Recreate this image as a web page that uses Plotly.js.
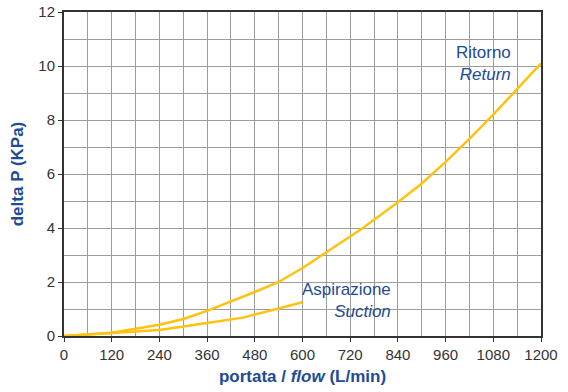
<!DOCTYPE html>
<html>
<head>
<meta charset="utf-8">
<script src="https://cdn.plot.ly/plotly-3.0.1.min.js"></script>
<style>html,body{margin:0;padding:0;background:#fff;}#chart{width:568px;height:392px;}</style>
</head>
<body>
<div id="chart"></div>
<script>
const returnFlow = [0, 120, 240, 300, 360, 420, 480, 540, 600, 660, 750, 840, 900, 960, 1020, 1080, 1140, 1200];
const returnDeltaP = [0, 0.12, 0.42, 0.63, 0.93, 1.27, 1.63, 2.0, 2.52, 3.1, 3.98, 4.95, 5.65, 6.45, 7.3, 8.2, 9.15, 10.1];
const suctionFlow = [0, 120, 240, 360, 450, 540, 600];
const suctionDeltaP = [0, 0.1, 0.22, 0.48, 0.68, 1.02, 1.25];
const xTickStep = 120;
const yTickStep = 2;
const xRange = [0, 1200];
const yRange = [0, 12];

const lineColor = '#FFC20E';
const blue = '#1D4B96';
const gridColor = '#9d9d9d';
const font = 'Liberation Sans, Arial, sans-serif';

const traces = [
  {x: returnFlow, y: returnDeltaP, xaxis: 'x', yaxis: 'y', mode: 'lines', line: {color: lineColor, width: 2.5}, hoverinfo: 'skip'},
  {x: suctionFlow, y: suctionDeltaP, xaxis: 'x2', yaxis: 'y2', mode: 'lines', line: {color: lineColor, width: 2.5}, hoverinfo: 'skip'}
];

const layout = {
  width: 568, height: 392,
  margin: {l: 64, r: 27, t: 12, b: 56},
  paper_bgcolor: '#fff', plot_bgcolor: '#fff',
  showlegend: false,
  font: {family: font, size: 14, color: '#333'},
  // base axes: fine grid + frame
  xaxis: {
    range: xRange, tickmode: 'linear', tick0: 0, dtick: xTickStep / 2,
    showgrid: true, gridcolor: gridColor, gridwidth: 1,
    showticklabels: false, ticks: '', zeroline: false,
    showline: true, linecolor: '#333', linewidth: 1.5, mirror: true
  },
  yaxis: {
    range: yRange, tickmode: 'linear', tick0: 0, dtick: yTickStep / 2,
    showgrid: true, gridcolor: gridColor, gridwidth: 1,
    showticklabels: false, ticks: '', zeroline: false,
    showline: true, linecolor: '#333', linewidth: 1.5, mirror: true
  },
  // overlay axes: labels, ticks, titles
  xaxis2: {
    overlaying: 'x', anchor: 'y2', side: 'bottom',
    range: xRange, tickmode: 'linear', tick0: 0, dtick: xTickStep,
    showgrid: false, zeroline: false, showline: false,
    ticks: 'outside', ticklen: 5, tickcolor: '#333',
    tickfont: {family: font, size: 15, color: '#333'},
    title: {text: '<b>portata / <i>flow</i> (L/min)</b>', font: {family: font, size: 17, color: blue}, standoff: 8}
  },
  yaxis2: {
    overlaying: 'y', anchor: 'x2', side: 'left',
    range: yRange, tickmode: 'linear', tick0: 0, dtick: yTickStep,
    showgrid: false, zeroline: false, showline: false,
    ticks: 'outside', ticklen: 5, tickcolor: '#333',
    tickfont: {family: font, size: 15, color: '#333'},
    title: {text: '<b>delta P (KPa)</b>', font: {family: font, size: 17, color: blue}, standoff: 10}
  },
  annotations: [
    {x: 1130, y: 9.25, xref: 'x2', yref: 'y2', text: 'Ritorno<br><i>Return</i>', showarrow: false,
     xanchor: 'right', yanchor: 'bottom', align: 'right', font: {family: font, size: 17, color: blue}},
    {x: 827, y: 0.5, xref: 'x2', yref: 'y2', text: 'Aspirazione<br><i>Suction</i>', showarrow: false,
     xanchor: 'right', yanchor: 'bottom', align: 'right', font: {family: font, size: 17, color: blue}}
  ]
};

Plotly.newPlot('chart', traces, layout, {displayModeBar: false});
</script>
</body>
</html>
